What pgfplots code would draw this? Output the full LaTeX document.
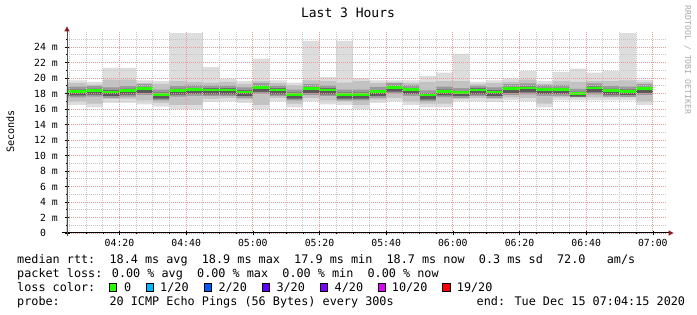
\documentclass[border=0pt]{standalone}
\usepackage{pgfplots}
\pgfplotsset{compat=1.18}
\usepackage{pgfplotstable}
\usepackage{fontspec}
\setmainfont{DejaVu Sans Mono}
\setmonofont{DejaVu Sans Mono}

\definecolor{smokeA}{HTML}{DDDDDD}
\definecolor{smokeB}{HTML}{C2C2C2}
\definecolor{smokeC}{HTML}{9A9A9A}
\definecolor{smokeD}{HTML}{5A5A5A}
\definecolor{mgrid}{HTML}{EE9898}
\definecolor{mingrid}{HTML}{C6C6C6}
\definecolor{arrowc}{HTML}{8B1A1A}
\definecolor{medgreen}{HTML}{26FF00}
\definecolor{lossA}{HTML}{26FF00}
\definecolor{lossB}{HTML}{00B8FF}
\definecolor{lossC}{HTML}{0059FF}
\definecolor{lossD}{HTML}{5E00FF}
\definecolor{lossE}{HTML}{7E00FF}
\definecolor{lossF}{HTML}{DD00FF}
\definecolor{lossG}{HTML}{FF0000}

\pgfplotstableread{
t lo lb lc ld med hd hc hb hi
4.25 16.5 17.0 17.5 17.75 18.3 18.5 18.9 19.35 19.7
10 16.2 16.7 17.6 17.85 18.4 18.6 19.0 19.15 19.5
15 16.8 17.3 17.4 17.65 18.2 18.4 18.8 19.8 21.3
20 16.8 17.3 17.6 17.85 18.4 18.6 19.0 19.8 21.3
25 16.6 17.1 17.8 18.05 18.6 18.8 19.2 19.35 19.7
30 16.3 16.8 17.1 17.35 17.9 18.1 18.5 19.25 19.6
35 16.0 16.5 17.6 17.85 18.4 18.6 19.0 19.6 25.8
40 16.0 16.5 17.7 17.95 18.5 18.7 19.1 19.5 25.8
45 16.9 17.3 17.65 17.9 18.45 18.65 19.05 19.4 21.4
50 17.0 17.4 17.65 17.9 18.45 18.65 19.05 19.5 19.9
55 16.8 17.2 17.4 17.65 18.2 18.4 18.8 19.25 19.6
60 16.0 16.5 17.95 18.2 18.75 18.95 19.35 19.6 22.5
65 17.0 17.4 17.65 17.9 18.45 18.65 19.05 19.35 19.7
70 16.2 16.7 17.1 17.35 17.9 18.1 18.5 19.05 19.4
75 17.0 17.4 17.8 18.05 18.6 18.8 19.2 19.7 24.8
80 16.6 17.1 17.65 17.9 18.45 18.65 19.05 19.6 20.1
85 16.5 17.0 17.1 17.35 17.9 18.1 18.5 19.4 24.8
90 16.0 16.5 17.1 17.35 17.9 18.1 18.5 19.6 20.0
95 16.8 17.2 17.45 17.7 18.25 18.45 18.85 19.35 19.7
100 17.0 17.4 18.0 18.25 18.8 19.0 19.35 19.45 19.7
105 16.5 17.0 17.7 17.95 18.5 18.7 19.1 19.35 19.7
110 16.2 16.7 17.0 17.25 17.8 18.0 18.4 19.5 20.25
115 16.2 16.7 17.5 17.75 18.3 18.5 18.9 19.6 20.7
120 17.0 17.3 17.4 17.65 18.1 18.3 18.7 19.6 23.1
125 17.0 17.4 17.65 17.9 18.45 18.65 19.0 19.2 19.5
130 16.9 17.3 17.4 17.65 18.2 18.4 18.8 19.35 19.7
135 17.1 17.5 17.8 18.05 18.6 18.8 19.2 19.5 19.9
140 17.0 17.4 17.9 18.15 18.7 18.9 19.3 19.8 20.9
145 16.2 16.7 17.7 17.95 18.5 18.7 19.1 19.25 19.6
150 17.1 17.5 17.7 17.95 18.5 18.7 19.1 19.6 20.8
155 17.1 17.5 17.5 17.6 18.0 18.2 18.6 19.5 21.2
160 17.1 17.5 17.9 18.15 18.7 18.9 19.3 19.6 20.7
165 17.1 17.5 17.6 17.85 18.4 18.6 19.0 19.6 20.9
170 17.1 17.5 17.55 17.8 18.3 18.5 18.9 19.7 25.8
175 16.5 17.0 17.8 18.05 18.6 18.8 19.2 19.45 19.8
180 16.5 17.0 17.8 18.05 18.6 18.8 19.2 19.45 19.8
}\smoke

\begin{document}
\begin{tikzpicture}
\useasboundingbox (0,0) rectangle (697pt,-315pt);
\fill[white] (0,0) rectangle (697pt,-315pt);
\begin{axis}[
  at={(67pt,-233pt)}, anchor=south west,
  scale only axis, width=600pt, height=200.7pt,
  xmin=4.25, xmax=184.25, ymin=0, ymax=25.9,
  axis on top,
  axis line style={draw=none},
  xtick={20,40,...,180},
  xticklabels={04:20,04:40,05:00,05:20,05:40,06:00,06:20,06:40,07:00},
  minor xtick={5,10,...,180},
  ytick={0,2,...,24},
  yticklabels={0\hphantom{mm},2 m,4 m,6 m,8 m,10 m,12 m,14 m,16 m,18 m,20 m,22 m,24 m},
  minor ytick={1,3,...,25},
  grid=both,
  major grid style={mgrid, dash pattern=on 1pt off 1pt, line width=0.7pt},
  minor grid style={mingrid, dash pattern=on 1pt off 1pt, line width=0.7pt},
  tick align=center,
  major tick length=4pt, minor tick length=2pt,
  tick style={black, line width=0.6pt},
  xtick pos=bottom, ytick pos=left,
  xticklabel style={font=\fontsize{9.8}{11}\selectfont, anchor=north, inner sep=0pt, yshift=-4.5pt},
  yticklabel style={font=\fontsize{9.8}{11}\selectfont, anchor=east, inner sep=0pt, xshift=-7pt},
]
\addplot[const plot mark left, fill=smokeA, draw=none] table[x=t,y=hi]{\smoke} \closedcycle;
\addplot[const plot mark left, fill=smokeB, draw=none] table[x=t,y=hb]{\smoke} \closedcycle;
\addplot[const plot mark left, fill=smokeC, draw=none] table[x=t,y=hc]{\smoke} \closedcycle;
\addplot[const plot mark left, fill=smokeD, draw=none] table[x=t,y=hd]{\smoke} \closedcycle;
\addplot[const plot mark left, fill=smokeC, draw=none] table[x=t,y=ld]{\smoke} \closedcycle;
\addplot[const plot mark left, fill=smokeB, draw=none] table[x=t,y=lc]{\smoke} \closedcycle;
\addplot[const plot mark left, fill=smokeA, draw=none] table[x=t,y=lb]{\smoke} \closedcycle;
\addplot[const plot mark left, fill=white, draw=none] table[x=t,y=lo]{\smoke} \closedcycle;
\addplot[jump mark left, medgreen, line width=2.8pt, mark=none] table[x=t,y=med]{\smoke};
\end{axis}
% axes lines and arrows
\draw[black, line width=1pt] (62pt,-233pt) -- (669pt,-233pt);
\fill[arrowc] (673.5pt,-233pt) -- (668.5pt,-230.3pt) -- (668.5pt,-235.7pt) -- cycle;
\draw[black!70, line width=1pt] (67pt,-236pt) -- (67pt,-31pt);
\fill[arrowc] (67pt,-26.5pt) -- (64.3pt,-31.5pt) -- (69.7pt,-31.5pt) -- cycle;
% title and labels
\node[font=\fontsize{13}{15}\selectfont, anchor=base, inner sep=0pt] at (348pt,-18pt) {Last 3 Hours};
\node[font=\fontsize{10.2}{12}\selectfont, rotate=90, anchor=base, inner sep=0pt] at (14pt,-131.5pt) {Seconds};
\node[font=\fontsize{8.2}{10}\selectfont, rotate=-90, anchor=base, inner sep=0pt, text=black!33] at (685pt,-60pt) {RRDTOOL / TOBI OETIKER};
% legend
\begin{scope}[every node/.style={font=\fontsize{11.8}{14}\selectfont, anchor=base west, inner sep=0pt}]
\node at (17pt,-263.5pt) {median rtt:\ \ 18.4 ms avg\ \ 18.9 ms max\ \ 17.9 ms min\ \ 18.7 ms now\ \ 0.3 ms sd\ \ 72.0\ \ \ am/s};
\node at (17pt,-277.5pt) {packet loss: 0.00 \% avg\ \ 0.00 \% max\ \ 0.00 \% min\ \ 0.00 \% now};
\node at (17pt,-291.5pt) {loss color:};
\node at (124pt,-291.5pt) {0};
\node at (160pt,-291.5pt) {1/20};
\node at (218.3pt,-291.5pt) {2/20};
\node at (276.3pt,-291.5pt) {3/20};
\node at (334.5pt,-291.5pt) {4/20};
\node at (391.7pt,-291.5pt) {10/20};
\node at (456.7pt,-291.5pt) {19/20};
\node at (17pt,-305.5pt) {probe:\ \ \ \ \ \ \ 20 ICMP Echo Pings (56 Bytes) every 300s};
\node at (476.5pt,-305.5pt) {end: Tue Dec 15 07:04:15 2020};
\end{scope}
\begin{scope}[line width=0.8pt]
\filldraw[fill=lossA, draw=black] (109pt,-283.5pt) rectangle (116.5pt,-291pt);
\filldraw[fill=lossB, draw=black] (146pt,-283.5pt) rectangle (153.5pt,-291pt);
\filldraw[fill=lossC, draw=black] (204pt,-283.5pt) rectangle (211.5pt,-291pt);
\filldraw[fill=lossD, draw=black] (262.3pt,-283.5pt) rectangle (269.8pt,-291pt);
\filldraw[fill=lossE, draw=black] (320.3pt,-283.5pt) rectangle (327.8pt,-291pt);
\filldraw[fill=lossF, draw=black] (378pt,-283.5pt) rectangle (385.5pt,-291pt);
\filldraw[fill=lossG, draw=black] (442.6pt,-283.5pt) rectangle (450.1pt,-291pt);
\end{scope}
\end{tikzpicture}
\end{document}
